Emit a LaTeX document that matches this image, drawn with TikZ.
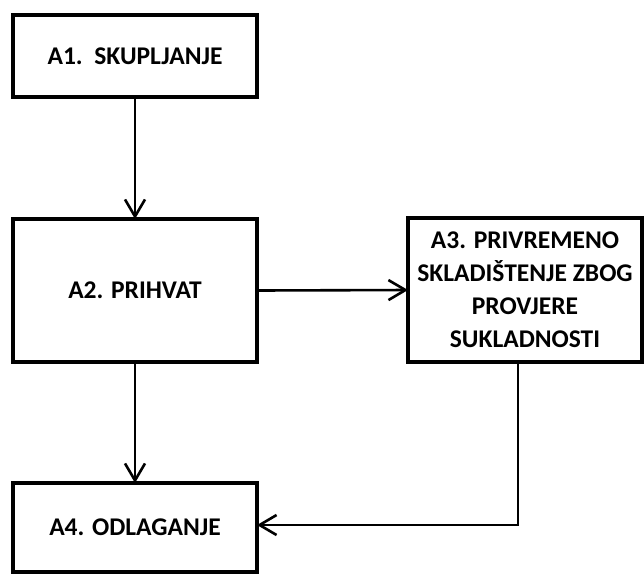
\documentclass[tikz,border=0pt]{standalone}
\usepackage{fontspec}
\setmainfont{Carlito}
\usetikzlibrary{arrows.meta}
\begin{document}
\begin{tikzpicture}[x=1pt,y=-1pt,
  box/.style={draw=black,line width=3.5pt,inner sep=0pt,outer sep=0pt,
    align=center,font=\fontsize{25.5}{33}\selectfont\bfseries},
  conn/.style={draw=black,line width=2.6pt,
    -{Straight Barb[length=17pt,width=20pt]}}]
\useasboundingbox (0,0) rectangle (644,574);
\node[box,minimum width=244pt,minimum height=82pt] (a1) at (135,56) {A1.\ \ SKUPLJANJE};
\node[box,minimum width=244pt,minimum height=143pt] (a2) at (135,290.5) {A2. PRIHVAT};
\node[box,minimum width=234pt,minimum height=144pt] (a3) at (525,290) {A3. PRIVREMENO\\SKLADIŠTENJE ZBOG\\PROVJERE\\SUKLADNOSTI};
\node[box,minimum width=244pt,minimum height=89pt] (a4) at (135,527.5) {A4. ODLAGANJE};
\coordinate (bend) at (518,525);
\draw[conn] (a1.south) -- (a2.north);
\draw[conn] (a2.south) -- (a4.north);
\draw[conn] (a2.east) -- (a3.west);
\draw[conn] (a3.south -| bend) -- (bend) -- (a4.east |- bend);
\end{tikzpicture}
\end{document}
